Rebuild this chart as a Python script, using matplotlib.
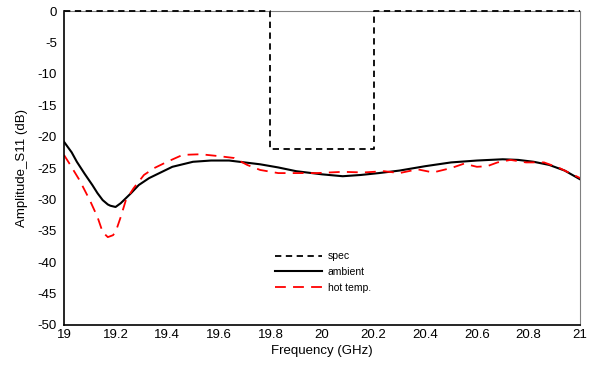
import matplotlib
matplotlib.use("Agg")
import matplotlib.pyplot as plt
import numpy as np

plt.rcParams['font.family'] = ['Liberation Sans', 'DejaVu Sans']
plt.rcParams['axes.unicode_minus'] = False

# spec mask
spec_f = [19.0, 19.8, 19.8, 20.2, 20.2, 21.0]
spec_db = [0, 0, -22, -22, 0, 0]

# ambient measurement
amb_f = [19.0, 19.03, 19.05, 19.08, 19.11, 19.13, 19.15, 19.17, 19.18, 19.20, 19.22,
         19.24, 19.26, 19.29, 19.33, 19.37, 19.42, 19.5, 19.57, 19.64, 19.7,
         19.76, 19.83, 19.9, 20.0, 20.08, 20.15, 20.22, 20.3, 20.4, 20.5, 20.6, 20.7,
         20.76, 20.82, 20.88, 20.94, 21.0]
amb_db = [-20.8, -22.5, -24.0, -25.9, -27.7, -29.0, -30.1, -30.8, -31.0, -31.2, -30.6,
          -29.8, -29.0, -27.7, -26.6, -25.8, -24.8, -24.0, -23.8, -23.8, -24.1,
          -24.4, -24.9, -25.5, -26.0, -26.3, -26.1, -25.8, -25.4, -24.7, -24.1, -23.8, -23.6,
          -23.7, -24.0, -24.5, -25.4, -26.8]

# hot temperature measurement
hot_f = [19.0, 19.02, 19.06, 19.10, 19.13, 19.15, 19.17, 19.19, 19.20, 19.22, 19.24,
         19.27, 19.31, 19.35, 19.40, 19.46, 19.53, 19.60, 19.66, 19.71, 19.76, 19.83,
         19.89, 19.98, 20.08, 20.16, 20.24, 20.3, 20.37, 20.43, 20.5, 20.55, 20.6,
         20.64, 20.68, 20.73, 20.79, 20.86, 20.92, 20.96, 21.0]
hot_db = [-22.9, -24.2, -26.9, -30.1, -32.8, -35.2, -36.0, -35.7, -35.2, -32.8, -30.1,
          -28.2, -26.1, -25.0, -24.0, -22.9, -22.8, -23.1, -23.4, -24.5, -25.3, -25.8,
          -25.8, -25.8, -25.6, -25.7, -25.5, -25.8, -25.2, -25.7, -25.0, -24.3, -24.8,
          -24.7, -24.1, -23.7, -24.1, -24.1, -25.0, -25.8, -26.6]

fig = plt.figure(figsize=(5.92, 3.71), dpi=100)
ax = fig.add_axes([0.108, 0.124, 0.872, 0.846])

ax.plot(spec_f, spec_db, color='black', ls=(0, (3.5, 2.5)), lw=1.3, label='spec',
        clip_on=False, zorder=4)
ax.plot(amb_f, amb_db, color='black', lw=1.5, label='ambient')
ax.plot(hot_f, hot_db, color='red', ls=(0, (6, 4)), lw=1.3, label='hot temp.')

ax.set_xlim(19, 21)
ax.set_ylim(-50, 0)
ax.set_xticks(np.arange(19, 21.01, 0.2))
ax.set_xticklabels(['19', '19.2', '19.4', '19.6', '19.8', '20', '20.2', '20.4',
                    '20.6', '20.8', '21'])
ax.set_yticks(np.arange(-50, 1, 5))
ax.tick_params(axis='x', length=0, labelsize=9.5, pad=3)
ax.tick_params(axis='y', length=0, labelsize=9.5, pad=5)
ax.set_xlabel('Frequency (GHz)', fontsize=9.5, labelpad=3)
ax.set_ylabel('Amplitude_S11 (dB)', fontsize=9.5, labelpad=7)

for s in ['top', 'right']:
    ax.spines[s].set_color('#808080')
for s in ['left', 'bottom']:
    ax.spines[s].set_linewidth(1.2)

ax.legend(loc='upper left', bbox_to_anchor=(0.39, 0.265), frameon=False,
          fontsize=7.5, handlelength=4.5, handletextpad=0.6, labelspacing=0.55)

fig.savefig('out.png', dpi=100)
